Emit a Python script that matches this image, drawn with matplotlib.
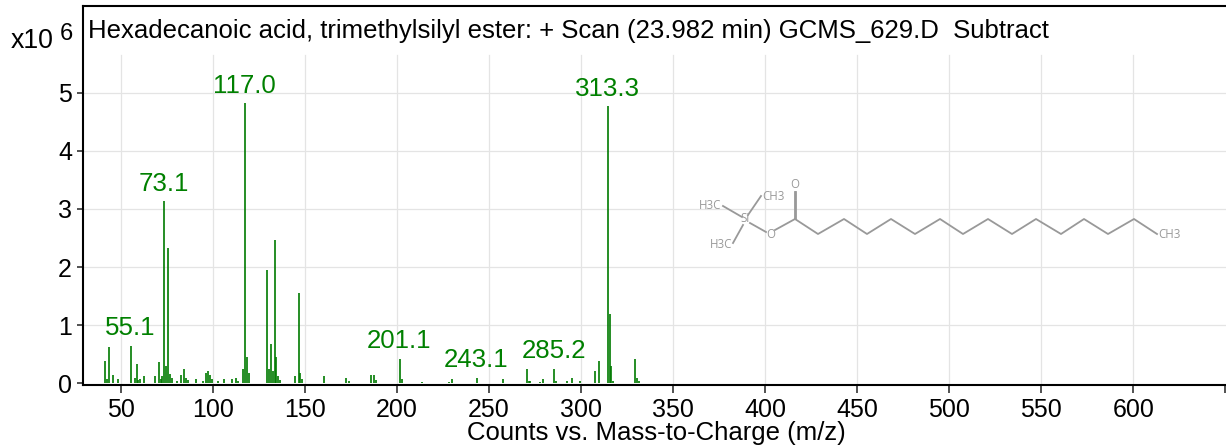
from matplotlib import pyplot as plt

mz = [41.5, 42.5, 43.5, 45.5, 48.5, 55.5, 57.5, 58.5, 59.5, 60.5, 62.5, 68.5, 70.5, 71.5, 72.5, 73.5, 74.5, 75.5, 76.5, 77.5,
      80.5, 82.5, 84.5, 85.5, 86.5, 90.5, 94.5, 96, 97.5, 98.5, 99.5, 102.5, 106, 110.5, 112.5, 113.5,
      116.5, 117.5, 118.5, 119.5, 129.5, 130.5, 131.5, 132.5, 133.5, 134.5, 135.5, 136.5, 144.5, 146.5, 147.5, 148.5,
      160.5, 172.5, 174, 186, 187.5, 188.5, 201.5, 202.5, 213.5, 228, 230, 243.5, 257.5,
      270.5, 271.5, 272.5, 277.5, 279.5, 285.5, 286.5, 292.5, 295, 299.5, 307.5, 309.5, 314.5, 315.5, 316.5, 317.5,
      329.5, 330.5, 331.5]
counts = [0.39, 0.07, 0.62, 0.15, 0.07, 0.65, 0.09, 0.33, 0.05, 0.07, 0.12, 0.12, 0.36, 0.07, 0.12, 3.13, 0.30, 2.33, 0.16, 0.10,
          0.04, 0.15, 0.25, 0.09, 0.06, 0.07, 0.04, 0.18, 0.21, 0.15, 0.07, 0.04, 0.07, 0.07, 0.10, 0.04,
          0.25, 4.82, 0.45, 0.18, 1.95, 0.25, 0.68, 0.22, 2.46, 0.45, 0.13, 0.05, 0.13, 1.56, 0.18, 0.07,
          0.12, 0.10, 0.04, 0.15, 0.15, 0.05, 0.42, 0.07, 0.03, 0.03, 0.07, 0.10, 0.07,
          0.25, 0.04, 0.04, 0.03, 0.07, 0.25, 0.04, 0.04, 0.10, 0.04, 0.21, 0.39, 4.77, 1.20, 0.30, 0.04,
          0.42, 0.10, 0.04]

peak_labels = ["55.1", "73.1", "117.0", "201.1", "243.1", "285.2", "313.3"]
peak_mz = [55.5, 73.5, 117.5, 201.5, 243.5, 285.5, 314.5]
peak_counts = [0.65, 3.13, 4.82, 0.42, 0.10, 0.25, 4.77]

xticks = [50, 100, 150, 200, 250, 300, 350, 400, 450, 500, 550, 600, 650]
xticklabels = ["50", "100", "150", "200", "250", "300", "350", "400", "450", "500", "550", "600", ""]
yticks = [0, 1, 2, 3, 4, 5]

# structure drawing, in image pixels
chain_x = [795, 818, 844, 867, 891, 915, 940, 963, 988, 1012, 1036, 1061, 1084, 1108, 1134, 1157]
chain_y = [219, 234, 219, 234, 219, 234, 219, 234, 219, 234, 219, 234, 219, 234, 219, 234]
bonds = [((723, 206), (742, 217)), ((761, 196), (748, 215)), ((733, 243), (743, 225)),
         ((750, 223), (766, 232)), ((775, 230), (795, 219)),
         ((794.5, 192), (794.5, 219)), ((795.5, 192), (795.5, 219))]
atom_labels = ["H3C", "CH3", "H3C", "Si", "O", "O", "CH3"]
atom_x = [710, 773, 721, 745, 771, 794.5, 1169]
atom_y = [205.5, 196, 244, 219, 234.5, 185, 234.5]

W, H = 1226, 448
plt.rcParams['font.family'] = ['Liberation Sans', 'DejaVu Sans']

fig = plt.figure(figsize=(W / 100, H / 100), dpi=100)
left, right, top, bottom = 82.5, 1226, 6.5, 384.5
ax = fig.add_axes([left / W, 1 - bottom / H, (right - left) / W, (bottom - top) / H])
ax.set_xlim(29.1, 650.4)
ax.set_ylim(-0.02, 6.48)

for x in xticks[:-1]:
    ax.plot([x, x], [-0.02, 5.64], color='#e4e4e4', lw=0.9, zorder=1)
for y in yticks[1:]:
    ax.axhline(y, color='#e4e4e4', lw=0.9, zorder=1)

ax.vlines(mz, 0, counts, color='#007a00', lw=1.2, zorder=3)
for label, x, y in zip(peak_labels, peak_mz, peak_counts):
    ax.annotate(label, (x, y), xytext=(-0.5, 7.5), textcoords='offset points',
                ha='center', va='baseline', color='#008000', fontsize=18.6, zorder=4)

ax.set_xticks(xticks, xticklabels)
ax.set_yticks(yticks)
ax.tick_params(axis='x', length=6, width=1.2, color='#333333', pad=3.5, labelsize=18)
ax.tick_params(axis='y', length=4.5, width=1.2, color='#333333', pad=3, labelsize=18)
for side in ['left', 'top', 'bottom']:
    ax.spines[side].set_linewidth(1.5)
ax.spines['right'].set_visible(False)

# overlay in image pixels for the header texts and the structure
ov = fig.add_axes([0, 0, 1, 1], facecolor='none')
ov.set_xlim(0, W)
ov.set_ylim(H, 0)
ov.axis('off')

ov.text(88, 38, "Hexadecanoic acid, trimethylsilyl ester: + Scan (23.982 min) GCMS_629.D  Subtract",
        fontsize=18.5, color='black', va='baseline')
ov.text(11, 48, "x10", fontsize=19.3, color='black', va='baseline')
ov.text(60, 40, "6", fontsize=17, color='black', va='baseline')
ov.text(656, 440, "Counts vs. Mass-to-Charge (m/z)", fontsize=18.5, color='black', ha='center', va='baseline')

ov.plot(chain_x, chain_y, color='#999999', lw=1.3)
for a, b in bonds:
    ov.plot([a[0], b[0]], [a[1], b[1]], color='#999999', lw=1.3)
for label, x, y in zip(atom_labels, atom_x, atom_y):
    ov.text(x, y, label, color='#999999', fontsize=8.3, ha='center', va='center',
            family=['Open Sans', 'DejaVu Sans'])

fig.savefig("out.png", dpi=100)
